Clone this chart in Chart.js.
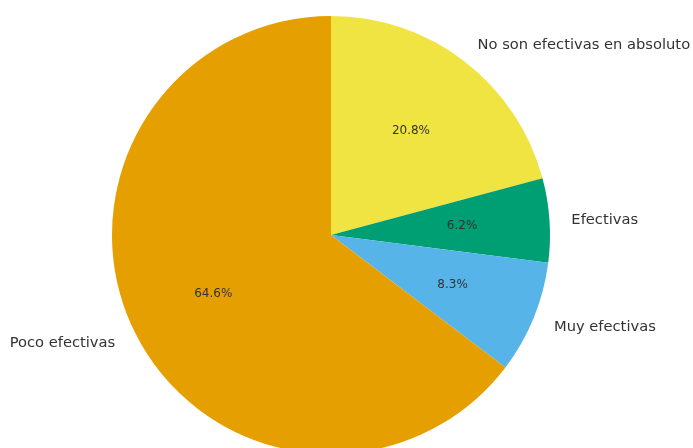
<!DOCTYPE html>
<html>
<head>
<meta charset="utf-8">
<script src="https://cdn.jsdelivr.net/npm/chart.js@4/dist/chart.umd.min.js"></script>
<style>
  html, body { margin: 0; padding: 0; background: #fff; overflow: hidden; }
  #wrap { width: 693px; height: 470px; }
</style>
</head>
<body>
<div id="wrap"><canvas id="pieChart" width="693" height="470"></canvas></div>
<script>
// Datos (en orden horario desde las 12)
const categorias = ["No son efectivas en absoluto", "Efectivas", "Muy efectivas", "Poco efectivas"];
const porcentajes = [20.8, 6.2, 8.3, 64.6];
const colores = ["#F0E442", "#009E73", "#56B4E9", "#E69F00"];

// Plugin para dibujar etiquetas externas y porcentajes (estilo matplotlib)
const etiquetasPlugin = {
  id: "etiquetas",
  afterDatasetsDraw(chart) {
    const ctx = chart.ctx;
    const meta = chart.getDatasetMeta(0);
    meta.data.forEach((arc, i) => {
      const p = arc.getProps(["x", "y", "startAngle", "endAngle", "outerRadius"], true);
      const mid = (p.startAngle + p.endAngle) / 2;
      const cos = Math.cos(mid), sin = Math.sin(mid);

      // etiqueta de categoría a 1.1 r
      ctx.save();
      ctx.font = "14.7px 'DejaVu Sans'";
      ctx.fillStyle = "#333333";
      ctx.textBaseline = "middle";
      ctx.textAlign = cos < 0 ? "right" : "left";
      ctx.fillText(categorias[i], p.x + cos * p.outerRadius * 1.1, p.y + sin * p.outerRadius * 1.1 + 1);

      // porcentaje a 0.6 r
      ctx.font = "12px 'DejaVu Sans'";
      ctx.textAlign = "center";
      ctx.fillText(porcentajes[i].toFixed(1) + "%", p.x + cos * p.outerRadius * 0.6, p.y + sin * p.outerRadius * 0.6);
      ctx.restore();
    });
  }
};

const ctx = document.getElementById("pieChart").getContext("2d");
new Chart(ctx, {
  type: "pie",
  data: {
    labels: categorias,
    datasets: [{
      data: porcentajes,
      backgroundColor: colores,
      borderWidth: 0
    }]
  },
  options: {
    responsive: false,
    animation: false,
    layout: { padding: { top: 16, bottom: 16, left: 112, right: 143 } },
    plugins: {
      legend: { display: false },
      tooltip: { enabled: false }
    }
  },
  plugins: [etiquetasPlugin]
});
</script>
</body>
</html>
